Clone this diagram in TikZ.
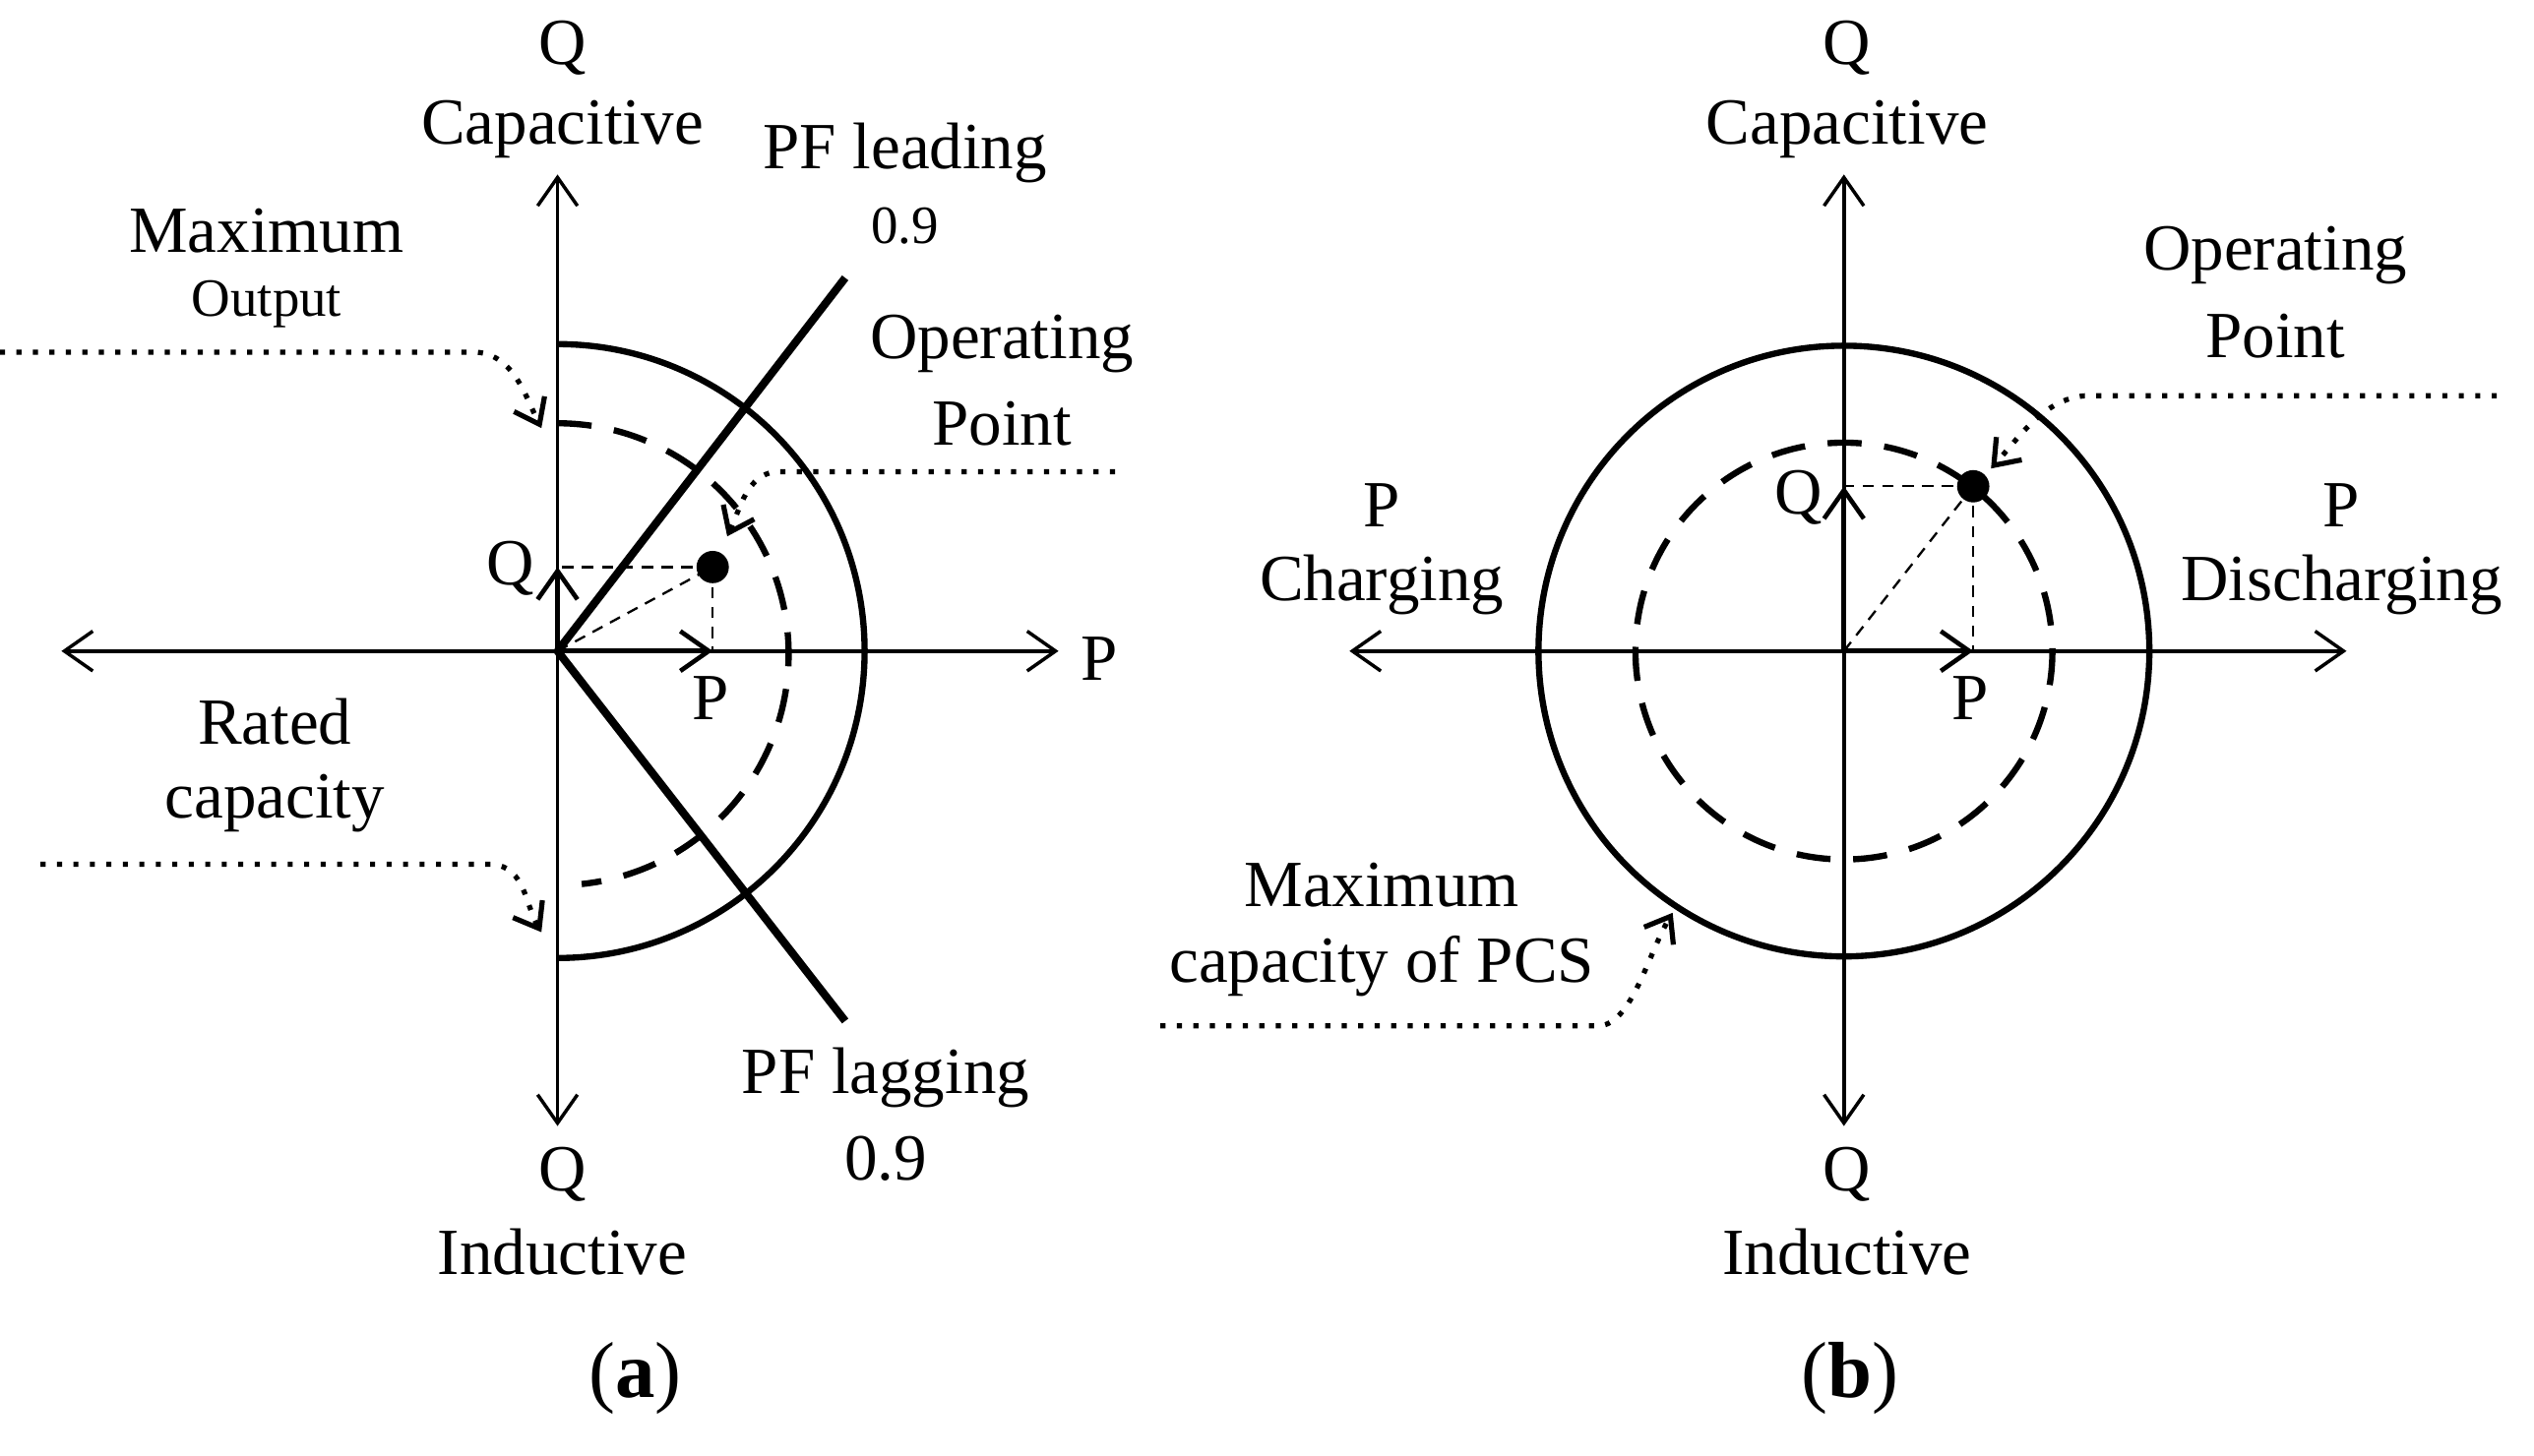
\documentclass[tikz,border=0pt]{standalone}
\usepackage{fontspec}
\setmainfont{Liberation Serif}
\usetikzlibrary{arrows.meta}
\begin{document}
\begin{tikzpicture}[x=0.01cm,y=-0.01cm,
  ax/.style={line width=0.6pt,{Straight Barb[length=5pt,width=7pt]}-{Straight Barb[length=5pt,width=7pt]}},
  vec/.style={line width=0.8pt,-{Straight Barb[length=5pt,width=7pt]}},
  circ/.style={line width=1.1pt},
  dcirc/.style={line width=1.1pt,dash pattern=on 6pt off 4pt},
  pf/.style={line width=1.4pt},
  thin/.style={line width=0.4pt,dash pattern=on 2pt off 1.5pt},
  dot/.style={line width=0.9pt,dotted,-{Straight Barb[length=4pt,width=6pt]}},
  t/.style={font=\fontsize{11.6}{13}\selectfont,inner sep=0pt},
  s/.style={font=\fontsize{9.5}{11}\selectfont,inner sep=0pt}]
\useasboundingbox (0,0) rectangle (1568,901);
% ---------- panel (a)
\coordinate (Oa) at (345,403);
\coordinate (Ta) at (345,108); \coordinate (Ba) at (345,697);
\coordinate (La) at (38,403); \coordinate (Ra) at (655,403);
\draw[ax] (Ba) -- (Ta);
\draw[ax] (La) -- (Ra);
\draw[circ] (345,213) arc[start angle=-90,end angle=90,radius=190];
\draw[dcirc] (345,262) arc[start angle=-90,end angle=84,radius=143];
\coordinate (PFa) at (523,172); \coordinate (PFb) at (523,632);
\draw[pf] (Oa) -- (PFa);
\draw[pf] (Oa) -- (PFb);
\coordinate (Opa) at (441,351);
\coordinate (Qa) at (345,351); \coordinate (Pa) at (441,403);
\draw[thin] (Opa) -- (Qa); \draw[thin] (Opa) -- (Pa); \draw[thin] (Oa) -- (Opa);
\draw[vec] (Oa) -- (Qa);
\draw[vec] (Oa) -- (Pa);
\fill (Opa) circle[radius=10];
\node[t] (qa) at (316,352) {Q};
\node[t] (pa) at (440,432) {P};
\node[t] (pax) at (680,408) {P};
\node[t] (q1) at (348,30) {Q};
\node[t] (cap) at (348,80) {Capacitive};
\node[t] (pfl) at (560,95) {PF leading};
\node[s] (pfl9) at (560,140) {0.9};
\node[t] (max) at (165,143) {Maximum};
\node[s] (out) at (165,188) {Output};
\node[t] (op1) at (620,213) {Operating};
\node[t] (op2) at (620,262) {Point};
\node[t] (rat) at (170,447) {Rated};
\node[t] (rcap) at (170,497) {capacity};
\node[t] (pfg) at (548,667) {PF lagging};
\node[t] (pfg9) at (548,717) {0.9};
\node[t] (q2) at (348,727) {Q};
\node[t] (ind) at (348,775) {Inductive};
\node[font=\fontsize{14}{16}\selectfont,inner sep=0pt] (la) at (393,853) {(\textbf{a})};
\coordinate (m0) at (0,218); \coordinate (m1) at (335,265);
\draw[dot] (m0) -- (295,218) .. controls (318,220) and (325,245) .. (m1);
\coordinate (r0) at (25,535); \coordinate (r1) at (335,577);
\draw[dot] (r0) -- (305,535) .. controls (325,537) and (325,560) .. (r1);
\coordinate (o0) at (690,292); \coordinate (o1) at (450,332);
\draw[dot] (o0) -- (480,292) .. controls (462,294) and (458,315) .. (o1);
% ---------- panel (b)
\coordinate (Ob) at (1141,403);
\draw[ax] (1141,697) -- (1141,108);
\draw[ax] (835,403) -- (1452,403);
\draw[circ] (Ob) circle[radius=189];
\draw[dcirc] (Ob) circle[radius=129];
\coordinate (Opb) at (1221,301);
\coordinate (Qb) at (1141,301); \coordinate (Pb) at (1221,403);
\draw[thin] (Opb) -- (Qb); \draw[thin] (Opb) -- (Pb); \draw[thin] (Ob) -- (Opb);
\draw[vec] (Ob) -- (Qb);
\draw[vec] (Ob) -- (Pb);
\fill (Opb) circle[radius=10];
\node[t] (qb) at (1113,308) {Q};
\node[t] (pb) at (1219,432) {P};
\node[t] (bq1) at (1143,30) {Q};
\node[t] (bcap) at (1143,80) {Capacitive};
\node[t] (bop1) at (1408,158) {Operating};
\node[t] (bop2) at (1408,208) {Point};
\node[t] (bp1) at (855,313) {P};
\node[t] (bch) at (855,362) {Charging};
\node[t] (bp2) at (1449,313) {P};
\node[t] (bdis) at (1449,362) {Discharging};
\node[t] (bmax) at (855,548) {Maximum};
\node[t] (bmcap) at (855,598) {capacity of PCS};
\node[t] (bq2) at (1143,727) {Q};
\node[t] (bind) at (1143,775) {Inductive};
\node[font=\fontsize{14}{16}\selectfont,inner sep=0pt] (lb) at (1145,853) {(\textbf{b})};
\coordinate (bo0) at (1545,245); \coordinate (bo1) at (1232,290);
\draw[dot] (bo0) -- (1290,245) .. controls (1265,247) and (1250,270) .. (bo1);
\coordinate (bm0) at (718,635); \coordinate (bm1) at (1035,565);
\draw[dot] (bm0) -- (990,635) .. controls (1010,633) and (1020,590) .. (bm1);
\end{tikzpicture}
\end{document}
